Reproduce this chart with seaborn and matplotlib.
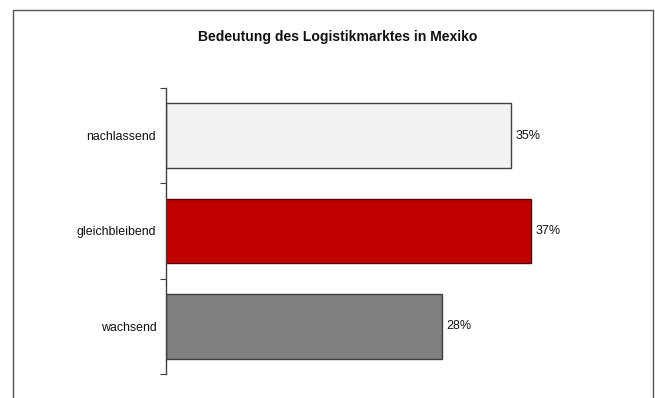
import matplotlib
matplotlib.use("Agg")
import matplotlib.pyplot as plt
import seaborn as sns
import pandas as pd
from matplotlib.patches import Rectangle

categories = ["nachlassend", "gleichbleibend", "wachsend"]
values = [35, 37, 28]
colors = ["#f2f2f2", "#c00000", "#808080"]
edges = ["#404040", "#5a0000", "#404040"]
title = "Bedeutung des Logistikmarktes in Mexiko"

sns.set_theme(style="white")
plt.rcParams["font.family"] = ["Liberation Sans", "DejaVu Sans"]

W, H = 655, 398
fig = plt.figure(figsize=(W / 100, H / 100), dpi=100)
ax = fig.add_axes([166 / W, 1 - 374 / H, (600 - 166) / W, (374 - 88) / H])

df = pd.DataFrame({"cat": categories, "val": values})
sns.barplot(data=df, x="val", y="cat", hue="cat", palette=colors,
            order=categories, hue_order=categories, legend=False,
            width=0.68, ax=ax, saturation=1)

for patch, ec in zip(ax.patches, edges):
    patch.set_edgecolor(ec)
    patch.set_linewidth(1.0)

for i, v in enumerate(values):
    ax.text(v + 0.45, i, f"{v}%", va="center", ha="left", fontsize=9, color="#111111")

ax.set_xlim(0, (600 - 166) / 9.87)
ax.set_ylim(2.5, -0.5)
ax.set_xlabel("")
ax.set_ylabel("")
ax.set_xticks([])
ax.set_yticks([-0.5, 0.5, 1.5, 2.5], minor=False)
ax.set_yticklabels([])
ax.set_yticks([0, 1, 2], minor=True)
ax.set_yticklabels(categories, minor=True, fontsize=8.9, color="#111111")
ax.tick_params(axis="y", which="major", left=True, length=4, width=0.8,
               color="#404040", direction="out")
ax.tick_params(axis="y", which="minor", left=False, length=0, pad=7)
for s in ["top", "right", "bottom"]:
    ax.spines[s].set_visible(False)
ax.spines["left"].set_color("#404040")
ax.spines["left"].set_linewidth(1.0)

fig.text(338 / W, 1 - 37 / H, title, ha="center", va="center",
         fontsize=10.1, fontweight="bold", color="#111111")

frame = Rectangle((12.5 / W, -0.05), (653 - 12.5) / W, 1 - 10.5 / H + 0.05,
                  transform=fig.transFigure, fill=False,
                  edgecolor="#555555", linewidth=1.0)
fig.patches.append(frame)

fig.savefig("out.png", dpi=100)
